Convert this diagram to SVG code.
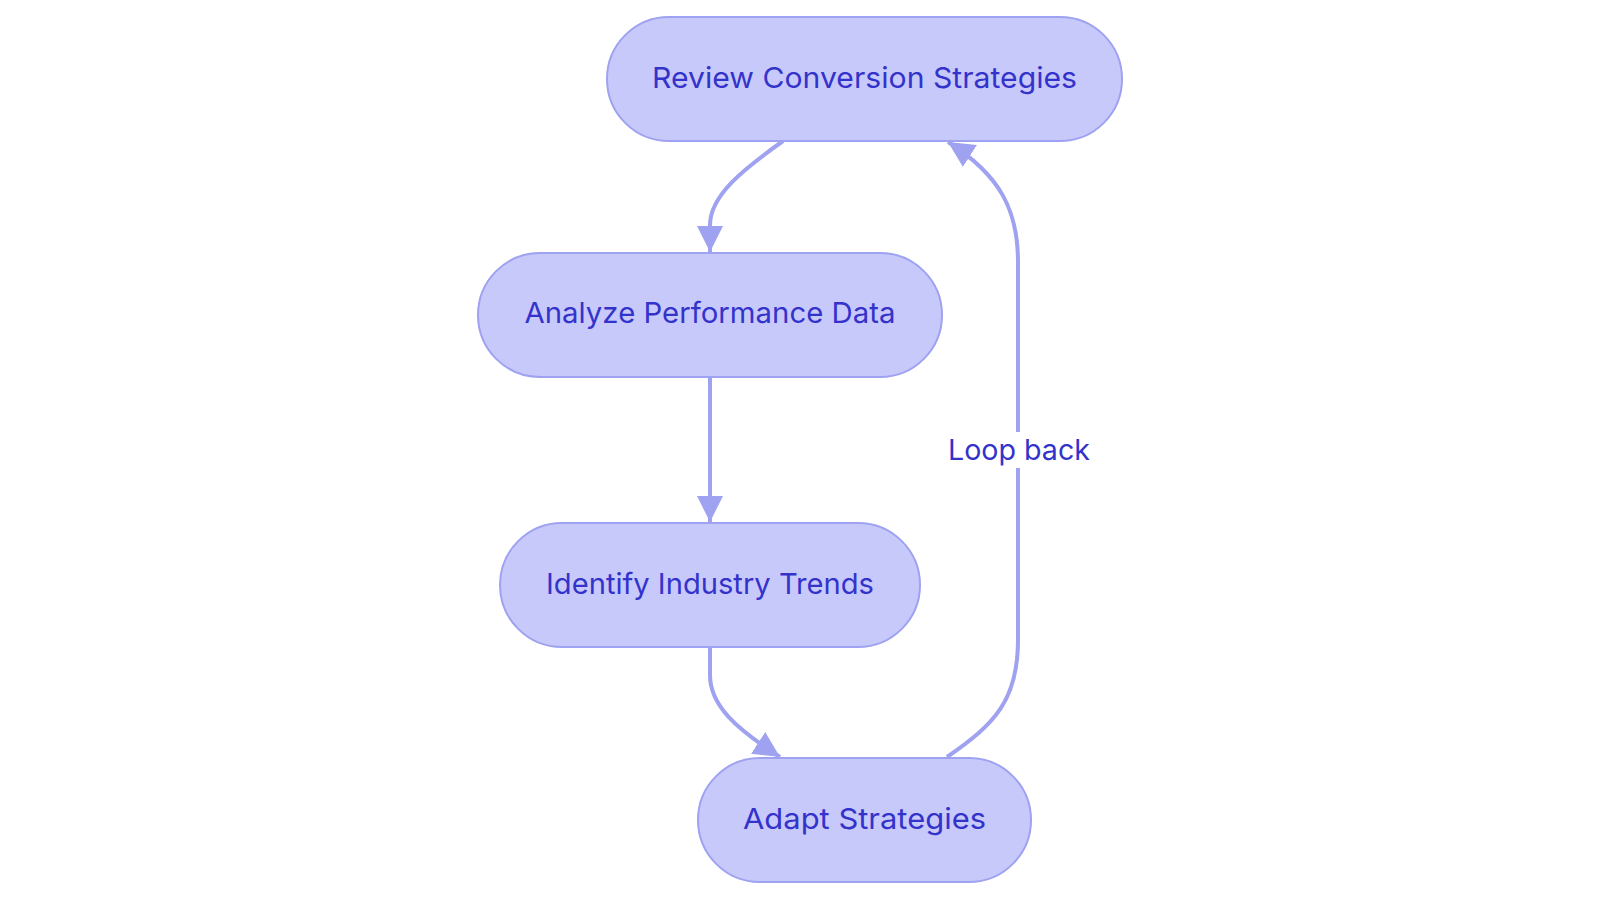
<svg xmlns="http://www.w3.org/2000/svg" width="1600" height="903" viewBox="0 0 1600 903">
<style>
.node rect{fill:#c8c9fb;stroke:#9ea2f0;stroke-width:2}
.node text,.lbl{font-family:Inter,"Noto Sans","DejaVu Sans",sans-serif;font-size:29px;fill:#3333cc;text-anchor:middle}
.edge{fill:none;stroke:#9ea2f0;stroke-width:4}
</style>
<defs>
<marker id="arr" viewBox="0 0 10 10" refX="10" refY="5" markerWidth="6.5" markerHeight="6.5" markerUnits="strokeWidth" orient="auto">
<path d="M0,0 L10,5 L0,10 z" fill="#9ea2f0"/>
</marker>
</defs>
<rect width="1600" height="903" fill="#ffffff"/>
<g id="edges">
<path class="edge" d="M783,141 C745,168 710,195 710,225 L710,252" marker-end="url(#arr)"/>
<path class="edge" d="M710,377 L710,522" marker-end="url(#arr)"/>
<path class="edge" d="M710,647 L710,675 C710,705 735,728 780,757" marker-end="url(#arr)"/>
<path class="edge" d="M947,757 C995,724 1018,700 1018,640 L1018,262 C1018,210 1000,175 948,142" marker-end="url(#arr)"/>
<rect x="946" y="432" width="146" height="36" fill="#ffffff"/>
<text class="lbl" x="1019" y="460" textLength="142" lengthAdjust="spacingAndGlyphs">Loop back</text>
</g>
<g id="node1" class="node"><rect x="607" y="17" width="515" height="124" rx="62"/><text x="864.5" y="88" textLength="425" lengthAdjust="spacingAndGlyphs">Review Conversion Strategies</text></g>
<g id="node2" class="node"><rect x="478" y="253" width="464" height="124" rx="62"/><text x="710" y="323" textLength="371" lengthAdjust="spacingAndGlyphs">Analyze Performance Data</text></g>
<g id="node3" class="node"><rect x="500" y="523" width="420" height="124" rx="62"/><text x="710" y="593.5" textLength="328" lengthAdjust="spacingAndGlyphs">Identify Industry Trends</text></g>
<g id="node4" class="node"><rect x="698" y="758" width="333" height="124" rx="62"/><text x="864.5" y="829" textLength="243" lengthAdjust="spacingAndGlyphs">Adapt Strategies</text></g>
</svg>
